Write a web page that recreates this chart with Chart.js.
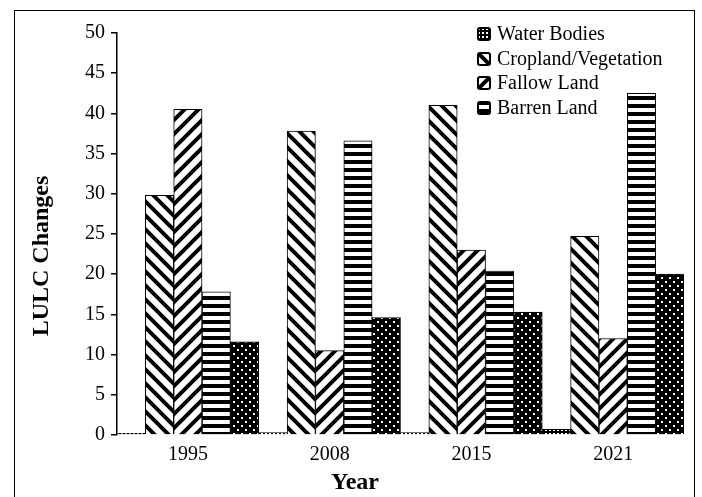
<!DOCTYPE html>
<html lang="en">
<head>
    <meta charset="UTF-8">
    <title>LULC Changes</title>
    <script src="https://cdn.jsdelivr.net/npm/chart.js"></script>
    <style>
        body { margin: 0; background: #fff; overflow: hidden; }
        #wrap { position: relative; width: 702px; height: 497px; font-family: "Liberation Serif", "Times New Roman", serif; color: #000; }
        #frame { position: absolute; left: 14px; top: 10px; width: 681px; height: 600px; border: 1.5px solid #000; box-sizing: border-box; pointer-events: none; }
        #legend { position: absolute; left: 477px; top: 21px; font-size: 20px; }
        #legend .item { height: 24.5px; line-height: 24px; white-space: nowrap; }
        #legend canvas { vertical-align: -1px; margin-right: 6px; }
        .axis-title { position: absolute; font-size: 24px; font-weight: bold; white-space: nowrap; line-height: 1; }
        #ytitle { left: 40px; top: 256px; transform: translate(-50%, -50%) rotate(-90deg); }
        #xtitle { left: 355px; top: 481px; transform: translate(-50%, -50%); }
    </style>
</head>
<body>
<div id="wrap">
    <canvas id="myChart" width="702" height="497"></canvas>
    <div id="frame"></div>
    <div id="legend"></div>
    <div class="axis-title" id="ytitle">LULC Changes</div>
    <div class="axis-title" id="xtitle">Year</div>
</div>
<script>
    // data
    var years = ['1995', '2008', '2015', '2021'];
    var waterBodies = [0.2, 0.3, 0.3, 0.7];
    var cropland = [29.8, 37.8, 41.0, 24.7];
    var fallowLand = [40.5, 10.5, 23.0, 12.0];
    var barrenLand = [17.8, 36.6, 20.4, 42.5];
    var builtUp = [11.6, 14.6, 15.3, 20.0];
    var yTicks = [0, 5, 10, 15, 20, 25, 30, 35, 40, 45, 50];

    function makePattern(kind) {
        var c = document.createElement('canvas');
        var g = c.getContext('2d');
        var s;
        if (kind === 'back' || kind === 'fwd') {
            s = 14;
            c.width = s; c.height = s;
            g.fillStyle = '#fff'; g.fillRect(0, 0, s, s);
            g.strokeStyle = '#000'; g.lineWidth = 4;
            g.beginPath();
            if (kind === 'back') {
                g.moveTo(-s, -s); g.lineTo(2 * s, 2 * s);
                g.moveTo(-s, 0); g.lineTo(s, 2 * s);
                g.moveTo(0, -s); g.lineTo(2 * s, s);
            } else {
                g.moveTo(-s, 2 * s); g.lineTo(2 * s, -s);
                g.moveTo(-s, s); g.lineTo(s, -s);
                g.moveTo(0, 2 * s); g.lineTo(2 * s, 0);
            }
            g.stroke();
        } else if (kind === 'horiz') {
            c.width = 8; c.height = 8;
            g.fillStyle = '#fff'; g.fillRect(0, 0, 8, 8);
            g.fillStyle = '#000'; g.fillRect(0, 0, 8, 4);
        } else if (kind === 'dots') {
            c.width = 8; c.height = 8;
            g.fillStyle = '#000'; g.fillRect(0, 0, 8, 8);
            g.fillStyle = '#fff';
            g.fillRect(1, 1, 2, 2);
            g.fillRect(5, 5, 2, 2);
        } else {
            c.width = 4; c.height = 4;
            g.fillStyle = '#000'; g.fillRect(0, 0, 4, 4);
            g.fillStyle = '#fff'; g.fillRect(1, 1, 2, 2);
        }
        return g.createPattern(c, 'repeat');
    }

    var fills = {
        water: makePattern('water'),
        crop: makePattern('back'),
        fallow: makePattern('fwd'),
        barren: makePattern('horiz'),
        built: makePattern('dots')
    };

    function ds(label, data, fill, inLegend) {
        return {
            label: label,
            data: data,
            backgroundColor: fill,
            borderColor: '#000',
            borderWidth: 1,
            barPercentage: 1,
            categoryPercentage: 1,
            inLegend: inLegend
        };
    }

    var data = {
        labels: years,
        datasets: [
            ds('Water Bodies', waterBodies, fills.water, true),
            ds('Cropland/Vegetation', cropland, fills.crop, true),
            ds('Fallow Land', fallowLand, fills.fallow, true),
            ds('Barren Land', barrenLand, fills.barren, true),
            ds('Built-up Area', builtUp, fills.built, false)
        ]
    };

    var serif = '"Liberation Serif", "Times New Roman", serif';

    var config = {
        type: 'bar',
        data: data,
        options: {
            responsive: false,
            animation: false,
            layout: { padding: { left: 0, right: 18, top: 33, bottom: 0 } },
            plugins: {
                legend: { display: false },
                tooltip: { enabled: false }
            },
            scales: {
                x: {
                    grid: { display: false, drawTicks: false },
                    border: { display: false },
                    ticks: { color: '#000', padding: 8, font: { family: serif, size: 20 } },
                    afterFit: function (scale) { scale.height = 62; }
                },
                y: {
                    min: 0,
                    max: 50,
                    afterBuildTicks: function (scale) {
                        scale.ticks = yTicks.map(function (v) { return { value: v }; });
                    },
                    grid: { drawOnChartArea: false, drawTicks: true, tickLength: 6, color: '#000', lineWidth: 1.5 },
                    border: { display: true, color: '#000', width: 1.5 },
                    ticks: { color: '#000', padding: 6, font: { family: serif, size: 20 } },
                    afterFit: function (scale) { scale.width = 117; }
                }
            }
        }
    };

    var myChart = new Chart(document.getElementById('myChart'), config);

    // legend box in the top right corner, first four series only
    var legendBox = document.getElementById('legend');
    data.datasets.forEach(function (d) {
        if (!d.inLegend) return;
        var row = document.createElement('div');
        row.className = 'item';
        var sw = document.createElement('canvas');
        sw.width = 14; sw.height = 14;
        var g = sw.getContext('2d');
        g.fillStyle = d.backgroundColor;
        g.beginPath();
        g.roundRect(1, 1, 12, 12, 2);
        g.fill();
        g.lineWidth = 2;
        g.strokeStyle = '#000';
        g.stroke();
        row.appendChild(sw);
        var txt = document.createElement('span');
        txt.textContent = d.label;
        row.appendChild(txt);
        legendBox.appendChild(row);
    });
</script>
</body>
</html>
